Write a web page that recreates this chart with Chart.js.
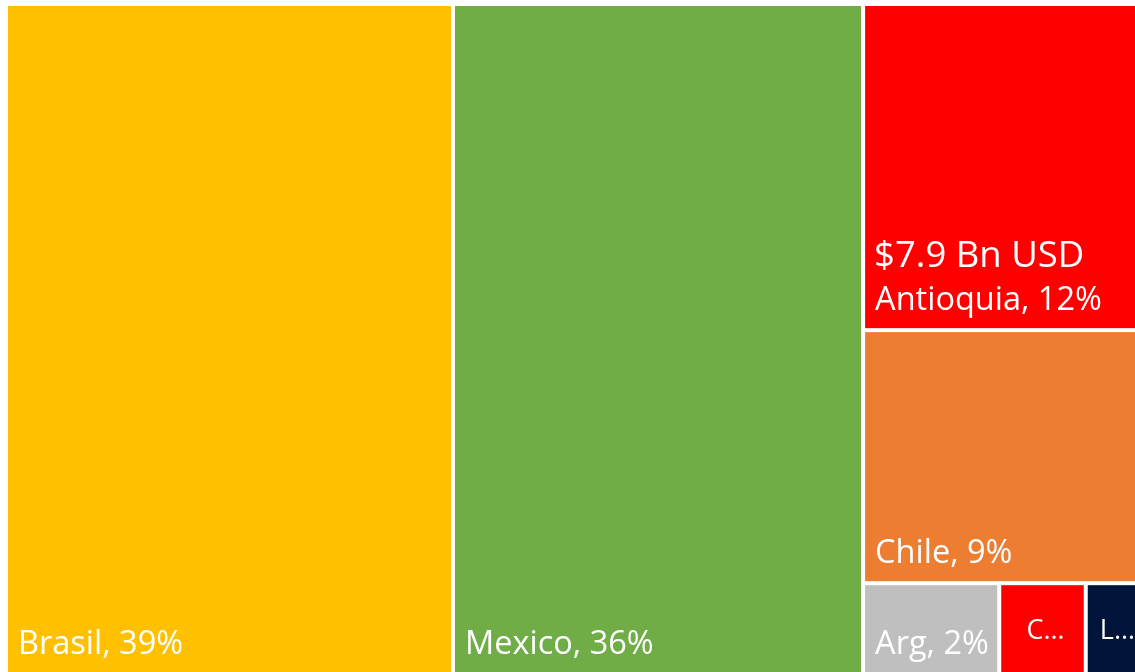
<!DOCTYPE html>
<html>
<head>
<meta charset="utf-8">
<script src="https://cdn.jsdelivr.net/npm/chart.js@4"></script>
<style>
  html, body { margin: 0; padding: 0; background: #ffffff; overflow: hidden; }
  canvas { display: block; }
</style>
</head>
<body>
<canvas id="treemapChart" width="1145" height="676"></canvas>
<script>
// regional values, Bn USD
const regions = ['Brasil', 'Mexico', 'Antioquia', 'Chile', 'Arg', 'C…', 'L…'];
const valuesBn = [25.92, 23.78, 7.9, 6.13, 1.07, 0.68, 0.45];
const cellColors = ['#FFC000', '#70AD47', '#FF0000', '#ED7D31', '#BFBFBF', '#FF0000', '#001539'];
const headline = { index: 2, text: '$7.9 Bn USD' };

const total = valuesBn.reduce((a, b) => a + b, 0);

// squarified treemap, areas in chart-area units
function worstRatio(row, side) {
  const s = row.reduce((a, b) => a + b.a, 0);
  const mx = Math.max(...row.map(o => o.a));
  const mn = Math.min(...row.map(o => o.a));
  return Math.max(side * side * mx / (s * s), (s * s) / (side * side * mn));
}

function layoutRow(row, r, out) {
  const s = row.reduce((a, b) => a + b.a, 0);
  if (r.w >= r.h) {
    const cw = s / r.h;
    let yy = r.y;
    row.forEach(o => { const hh = o.a / cw; out[o.i] = { x: r.x, y: yy, w: cw, h: hh }; yy += hh; });
    return { x: r.x + cw, y: r.y, w: r.w - cw, h: r.h };
  }
  const rh = s / r.w;
  let xx = r.x;
  row.forEach(o => { const ww = o.a / rh; out[o.i] = { x: xx, y: r.y, w: ww, h: rh }; xx += ww; });
  return { x: r.x, y: r.y + rh, w: r.w, h: r.h - rh };
}

function squarify(vals, w, h) {
  const sum = vals.reduce((a, b) => a + b, 0);
  const items = vals.map((v, i) => ({ i, a: v / sum * w * h }));
  const out = [];
  let r = { x: 0, y: 0, w, h };
  let row = [];
  let k = 0;
  while (k < items.length) {
    const side = Math.min(r.w, r.h);
    const cand = row.concat(items[k]);
    if (row.length === 0 || worstRatio(cand, side) <= worstRatio(row, side)) {
      row = cand;
      k++;
    } else {
      r = layoutRow(row, r, out);
      row = [];
    }
  }
  if (row.length) layoutRow(row, r, out);
  // back to 0..1 data units
  return out.map(c => ({ x0: c.x / w, x1: (c.x + c.w) / w, y0: c.y / h, y1: (c.y + c.h) / h }));
}

const treemapPlugin = {
  id: 'treemapCells',
  afterDatasetsDraw(chart) {
    const { ctx, chartArea, scales } = chart;
    const cells = squarify(valuesBn, chartArea.width, chartArea.height);
    const gap = 2;
    ctx.save();
    cells.forEach((c, i) => {
      const left = scales.x.getPixelForValue(c.x0) + gap;
      const right = scales.x.getPixelForValue(c.x1) - gap;
      const top = scales.y.getPixelForValue(c.y0) + gap;
      const bottom = scales.y.getPixelForValue(c.y1) - gap;
      ctx.fillStyle = cellColors[i];
      ctx.fillRect(left, top, right - left, bottom - top);

      const pct = Math.round(valuesBn[i] / total * 100);
      let label = `${regions[i]}, ${pct}%`;
      ctx.fillStyle = '#ffffff';
      ctx.textBaseline = 'alphabetic';
      ctx.font = '32.5px "Open Sans"';
      const w = right - left;
      if (ctx.measureText(label).width + 12 <= w) {
        ctx.textAlign = 'left';
        ctx.fillText(label, left + 10, bottom - 18);
        if (headline.index === i) {
          ctx.font = '36.5px "Open Sans"';
          ctx.fillText(headline.text, left + 9, bottom - 61);
        }
      } else {
        ctx.font = '27px "Open Sans"';
        label = regions[i].charAt(0) + '…';
        ctx.textAlign = 'center';
        ctx.fillText(label, (left + right) / 2 + 3, (top + bottom) / 2 + 10);
      }
    });
    ctx.restore();
  }
};

new Chart(document.getElementById('treemapChart'), {
  type: 'scatter',
  data: { datasets: [{ label: 'Bn USD', data: [], pointRadius: 0 }] },
  options: {
    responsive: false,
    animation: false,
    layout: { padding: { left: 6, top: 4, right: 2, bottom: 2 } },
    plugins: { legend: { display: false }, tooltip: { enabled: false } },
    scales: {
      x: { type: 'linear', min: 0, max: 1, display: false },
      y: { type: 'linear', min: 0, max: 1, reverse: true, display: false }
    }
  },
  plugins: [treemapPlugin]
});
</script>
</body>
</html>
